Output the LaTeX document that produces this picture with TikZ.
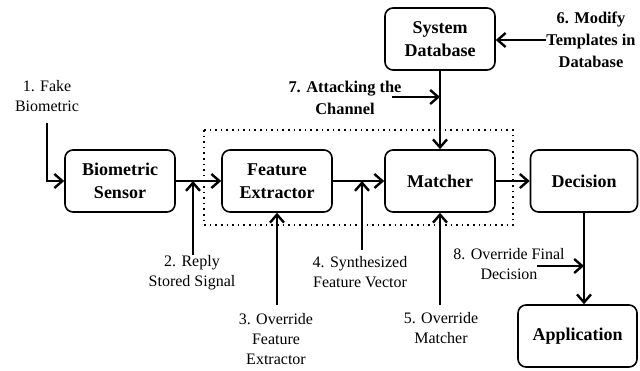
\documentclass[tikz,border=0pt]{standalone}
\usepackage{fontspec}
\setmainfont{Liberation Serif}
\usetikzlibrary{arrows.meta}
\begin{document}
\begin{tikzpicture}[x=0.5pt,y=-0.5pt,
 box/.style={draw,line width=0.8pt,rounded corners=4pt,minimum width=55pt,minimum height=31pt,align=center,font=\rmfamily\bfseries\fontsize{9}{11.5}\selectfont,inner sep=0pt},
 lab/.style={align=center,font=\rmfamily\fontsize{8}{10}\selectfont,inner sep=0pt},
 blab/.style={align=center,font=\rmfamily\bfseries\fontsize{8.2}{11}\selectfont,inner sep=0pt},
 arr/.style={line width=1.2pt,-{Straight Barb[length=4pt,width=7pt,line width=1.2pt]}}]
\useasboundingbox (0,0) rectangle (640,370);
% boxes
\node[box] (sensor) at (120,181) {Biometric\\Sensor};
\node[box] (extractor) at (277,181) {Feature\\Extractor};
\node[box] (matcher) at (440,181) {Matcher};
\node[box,minimum width=53.5pt] (decision) at (584,181) {Decision};
\node[box,minimum width=59.5pt] (app) at (577.5,336) {Application};
\node[box] (db) at (440,39) {System\\Database};
% dotted frame
\draw[dotted,line width=0.8pt] (204,130) rectangle (513,225);
% labels
\node[lab] (l1) at (47,96) {1. Fake\\Biometric};
\node[lab] (l2) at (192,273) {2. Reply\\Stored Signal};
\node[lab] (l3) at (276,339) {3. Override\\Feature\\Extractor};
\node[lab] (l4) at (360,272) {4. Synthesized\\Feature Vector};
\node[lab] (l5) at (441,328) {5. Override\\Matcher};
\node[blab] (l6) at (591,40) {6. Modify\\Templates in\\Database};
\node[blab] (l7) at (345,98) {7. Attacking the\\Channel};
\node[lab] (l8) at (509,264) {8. Override Final\\Decision};
% coordinates
\coordinate (s1) at (47,123);
\coordinate (s2) at (193,255);
\coordinate (s3) at (277,305);
\coordinate (s4) at (362,250);
\coordinate (s5) at (440,305);
\coordinate (s7) at (392,97);
\coordinate (s8) at (537,266);
% main flow
\draw[arr] (sensor.east) -- (extractor.west);
\draw[arr] (extractor.east) -- (matcher.west);
\draw[arr] (matcher.east) -- (decision.west);
\draw[arr] (decision.south) -- (decision.south |- app.north);
\draw[arr] (db.south) -- (matcher.north);
% attack arrows
\draw[arr] (s1) |- (sensor.west);
\draw[arr] (s2) -- (s2 |- sensor.east);
\draw[arr] (s3) -- (extractor.south);
\draw[arr] (s4) -- (s4 |- extractor.east);
\draw[arr] (s5) -- (matcher.south);
\draw[arr] (l6.west) -- (l6.west -| db.east);
\draw[arr] (s7) -- (s7 -| db.south);
\draw[arr] (s8) -- (s8 -| decision.south);
\end{tikzpicture}
\end{document}
